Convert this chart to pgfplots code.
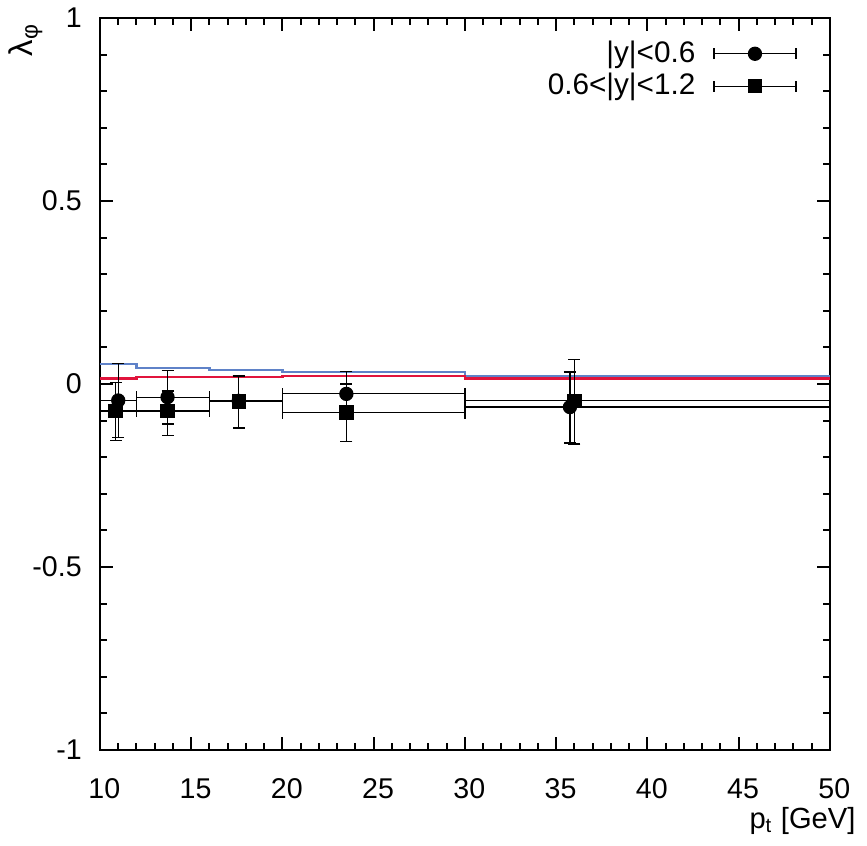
\documentclass[border=0pt]{standalone}
\usepackage{fontspec}
\setmainfont{Liberation Sans}
\usepackage{pgfplots}
\pgfplotsset{compat=1.18}
\definecolor{cred}{RGB}{225,20,60}
\definecolor{cblue}{RGB}{95,130,200}
\begin{document}
\begin{tikzpicture}
\begin{axis}[
  scale only axis,
  width=255.5pt, height=256.2pt,
  xmin=10, xmax=50, ymin=-1, ymax=1,
  xtick={10,15,20,25,30,35,40,45,50},
  xticklabels={10,15,20,25,30,35,40,45,50},
  ytick={-1,-0.5,0,0.5,1},
  yticklabels={-1,-0.5,0,0.5,1},
  minor x tick num=4, minor y tick num=4,
  tick align=inside,
  major tick length=4.55pt, minor tick length=2.45pt,
  tick style={line width=0.7pt, black},
  axis line style={line width=0.7pt},
  ticklabel style={font=\fontsize{10}{12}\selectfont, inner sep=0pt},
  xticklabel style={anchor=north, yshift=-9.8pt, xshift=1.5pt},
  yticklabel style={anchor=east, xshift=-6.2pt},
  xlabel={p\textsubscript{t} [GeV]},
  xlabel style={at={(rel axis cs:1,0)}, anchor=north east, inner sep=0pt, xshift=9.1pt, yshift=-19.8pt, font=\fontsize{10.2}{12}\selectfont},
  legend style={draw=none, fill=none, at={(rel axis cs:1,1)}, anchor=north east,
    xshift=-11.5pt, yshift=-7.8pt, inner sep=0pt, row sep=2.3pt, column sep=6.3pt,
    font=\fontsize{10.4}{12}\selectfont, nodes={inner sep=0pt}},
  legend cell align=right, legend plot pos=right,
  legend image code/.code={
    \draw[black, line width=0.42pt] (0pt,-1.9pt) -- (0pt,1.9pt) (0pt,0pt) -- (28.7pt,0pt) (28.7pt,-1.9pt) -- (28.7pt,1.9pt);
    \draw[#1] plot coordinates {(14.35pt,0pt)};
  },
]
\addplot[cblue, line width=0.75pt, const plot, forget plot] coordinates {
  (10,0.055) (12,0.043) (16,0.038) (20,0.032) (30,0.021) (50,0.021)
};
\addplot[cred, line width=0.8pt, const plot, forget plot] coordinates {
  (10,0.015) (12,0.020) (16,0.020) (20,0.022) (30,0.015) (50,0.015)
};
\addplot[black, only marks, mark=*, mark size=2.3pt,
  error bars/.cd, x dir=both, x explicit, y dir=both, y explicit,
  error bar style={line width=0.42pt, black},
  error mark options={rotate=90, mark size=2.1pt, line width=0.42pt, black}]
coordinates {
  (11.0,-0.045)  += (1.0,0.100)  -= (1.0,0.102)
  (13.7,-0.036)  += (2.3,0.072)  -= (1.7,0.073)
  (17.6,-0.046)  += (2.4,0.068)  -= (1.6,0.072)
  (23.5,-0.027)  += (6.5,0.062)  -= (3.5,0.062)
  (35.75,-0.063) += (14.25,0.096) -= (5.75,0.098)
};
\addlegendentry{|y|<0.6}
\addplot[black, only marks, mark=square*, mark size=2.3pt,
  error bars/.cd, x dir=both, x explicit, y dir=both, y explicit,
  error bar style={line width=0.42pt, black},
  error mark options={rotate=90, mark size=2.1pt, line width=0.42pt, black}]
coordinates {
  (10.85,-0.074) += (1.15,0.079)  -= (0.85,0.081)
  (13.7,-0.074)  += (2.3,0.055)   -= (1.7,0.067)
  (17.6,-0.048)  += (2.4,0.070)   -= (1.6,0.074)
  (23.5,-0.078)  += (6.5,0.078)   -= (3.5,0.078)
  (36.0,-0.046)  += (14.0,0.112)  -= (6.0,0.118)
};
\addlegendentry{0.6<|y|<1.2}
\coordinate (SW) at (rel axis cs:0,0);
\coordinate (NW) at (rel axis cs:0,1);
\end{axis}
\node[rotate=90, anchor=north east, inner sep=0pt, font=\fontsize{11.5}{13}\selectfont]
  at ([xshift=-32.2pt, yshift=-1.75pt]NW) {λ\textsubscript{φ}};
\pgfresetboundingbox
\path ([xshift=-35pt, yshift=-33.25pt]SW) rectangle ([xshift=268.45pt, yshift=262.5pt]SW);
\end{tikzpicture}
\end{document}
